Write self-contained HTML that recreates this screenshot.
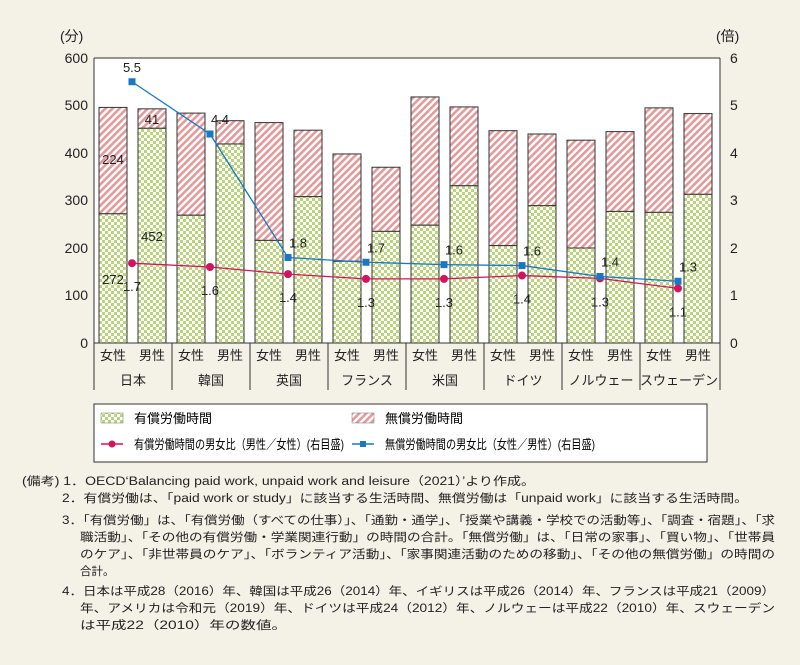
<!DOCTYPE html>
<html><head><meta charset="utf-8"><style>
body{margin:0;background:#f4f1e6;width:800px;height:665px;overflow:hidden;font-family:"Liberation Sans","Noto Sans CJK JP",sans-serif;}
</style></head><body>
<svg width="800" height="665" style="position:absolute;left:0;top:0" font-family="Liberation Sans, Noto Sans CJK JP, sans-serif">
<defs>
<pattern id="ck" width="6" height="6" patternUnits="userSpaceOnUse"><rect width="6" height="6" fill="#fff"/><rect width="3" height="3" fill="#b9d47a"/><rect x="3" y="3" width="3" height="3" fill="#b9d47a"/></pattern>
<pattern id="hc" width="5" height="5" patternUnits="userSpaceOnUse" patternTransform="rotate(45)"><rect width="5" height="5" fill="#fff"/><rect width="2.6" height="5" fill="#e49a9a"/></pattern>
</defs>
<rect x="94" y="58" width="626" height="285" fill="#fff"/>
<g font-size="14" fill="#222">
<text x="60" y="41">(分)</text><text x="716" y="41">(倍)</text>
<g text-anchor="end">
<text x="88" y="63">600</text><text x="88" y="110">500</text><text x="88" y="158">400</text><text x="88" y="205">300</text><text x="88" y="253">200</text><text x="88" y="300">100</text><text x="88" y="348">0</text></g>
<text x="730" y="63">6</text><text x="730" y="110">5</text><text x="730" y="158">4</text><text x="730" y="205">3</text><text x="730" y="253">2</text><text x="730" y="300">1</text><text x="730" y="348">0</text>
</g>
<g id="bars" stroke="#333" stroke-width="1"></g>
<line x1="94" y1="58" x2="94" y2="390" stroke="#333"/><line x1="720" y1="58" x2="720" y2="343" stroke="#333"/>
<line x1="94" y1="58" x2="720" y2="58" stroke="#333"/>
<line x1="94" y1="343" x2="720" y2="343" stroke="#333"/>
<g id="lines"></g>
<g id="lbl" font-size="13" fill="#222"></g>
<rect x="94" y="404" width="613" height="58" fill="#fff" stroke="#333"/>
<rect x="101" y="413" width="22" height="10" fill="url(#ck)" stroke="#777" stroke-width=".5"/>
<text x="134" y="423" font-size="13" textLength="78" lengthAdjust="spacingAndGlyphs">有償労働時間</text>
<rect x="352" y="413" width="22" height="10" fill="url(#hc)" stroke="#777" stroke-width=".5"/>
<text x="385" y="423" font-size="13" textLength="78" lengthAdjust="spacingAndGlyphs">無償労働時間</text>
<line x1="101" y1="444" x2="123" y2="444" stroke="#d4145a" stroke-width="1.5"/><circle cx="112" cy="444" r="3.5" fill="#d4145a"/>
<text x="134" y="449" font-size="13" textLength="210" lengthAdjust="spacingAndGlyphs">有償労働時間の男女比（男性／女性）(右目盛)</text>
<line x1="352" y1="444" x2="374" y2="444" stroke="#1a78c2" stroke-width="1.5"/><rect x="360" y="441" width="6" height="6" fill="#1a78c2"/>
<text x="385" y="449" font-size="13" textLength="210" lengthAdjust="spacingAndGlyphs">無償労働時間の男女比（女性／男性）(右目盛)</text>
<g font-size="11.5" fill="#222" lengthAdjust="spacingAndGlyphs">
<text x="22" y="485" textLength="513" lengthAdjust="spacingAndGlyphs">(備考) 1．OECD‘Balancing paid work, unpaid work and leisure（2021）’より作成。</text>
<text x="62" y="502" textLength="686" lengthAdjust="spacingAndGlyphs">2．有償労働は、「paid work or study」に該当する生活時間、無償労働は「unpaid work」に該当する生活時間。</text>
<text x="62" y="524" textLength="713" lengthAdjust="spacingAndGlyphs">3．「有償労働」は、「有償労働（すべての仕事）」、「通勤・通学」、「授業や講義・学校での活動等」、「調査・宿題」、「求</text>
<text x="80" y="541" textLength="695" lengthAdjust="spacingAndGlyphs">職活動」、「その他の有償労働・学業関連行動」の時間の合計。「無償労働」は、「日常の家事」、「買い物」、「世帯員</text>
<text x="80" y="558" textLength="695" lengthAdjust="spacingAndGlyphs">のケア」、「非世帯員のケア」、「ボランティア活動」、「家事関連活動のための移動」、「その他の無償労働」の時間の</text>
<text x="80" y="575">合計。</text>
<text x="62" y="595" textLength="713" lengthAdjust="spacingAndGlyphs">4．日本は平成28（2016）年、韓国は平成26（2014）年、イギリスは平成26（2014）年、フランスは平成21（2009）</text>
<text x="80" y="612" textLength="695" lengthAdjust="spacingAndGlyphs">年、アメリカは令和元（2019）年、ドイツは平成24（2012）年、ノルウェーは平成22（2010）年、スウェーデン</text>
<text x="80" y="629" textLength="207" lengthAdjust="spacingAndGlyphs">は平成22（2010）年の数値。</text>
</g>
</svg>
<script>
var d=[["日本",272,496,452,493],["韓国",269,484,419,468],["英国",216,464,308,448],["フランス",172,398,235,370],["米国",248,518,331,497],["ドイツ",205,447,289,440],["ノルウェー",200,427,277,445],["スウェーデン",275,495,313,483]];
var red=[1.68,1.6,1.45,1.35,1.35,1.42,1.36,1.15],blue=[5.5,4.4,1.8,1.7,1.65,1.63,1.4,1.3];
var rl=["1.7","1.6","1.4","1.3","1.3","1.4","1.3","1.1"],bl=["5.5","4.4","1.8","1.7","1.6","1.6","1.4","1.3"];
var Y=v=>343-v*0.475,R=v=>343-v*47.5,s="",l="",t="";
d.forEach((g,i)=>{var x=94+i*78;[[x+5,g[1],g[2]],[x+44,g[3],g[4]]].forEach(b=>{
s+=`<rect x="${b[0]}" y="${Y(b[2])}" width="28" height="${(b[2]-b[1])*.475}" fill="url(#hc)"/><rect x="${b[0]}" y="${Y(b[1])}" width="28" height="${b[1]*.475}" fill="url(#ck)"/>`;});
if(i>0)s+=`<line x1="${x}" y1="343" x2="${x}" y2="390" stroke-width="1"/>`;
t+=`<text x="${x+19}" y="360" text-anchor="middle">女性</text><text x="${x+58}" y="360" text-anchor="middle">男性</text><text x="${x+39}" y="385" text-anchor="middle">${g[0]}</text>`;});
s+=`<line x1="720" y1="343" x2="720" y2="390"/>`;
var rp=red.map((v,i)=>(94+i*78+38)+","+R(v)).join(" "),bp=blue.map((v,i)=>(94+i*78+38)+","+R(v)).join(" ");
l+=`<polyline points="${rp}" fill="none" stroke="#d4145a" stroke-width="1.3"/><polyline points="${bp}" fill="none" stroke="#1a78c2" stroke-width="1.3"/>`;
red.forEach((v,i)=>{var x=94+i*78+38;l+=`<circle cx="${x}" cy="${R(v)}" r="4" fill="#d4145a"/><rect x="${x-3.5}" y="${R(blue[i])-3.5}" width="7" height="7" fill="#1a78c2"/>`;
t+=`<text x="${x}" y="${R(v)+28}" text-anchor="middle">${rl[i]}</text><text x="${x+(i==0?0:10)}" y="${R(blue[i])-10}" text-anchor="middle">${bl[i]}</text>`;});
t+=`<text x="113" y="164" text-anchor="middle">224</text><text x="113" y="284" text-anchor="middle">272</text><text x="152" y="241" text-anchor="middle">452</text><text x="152" y="124" text-anchor="middle">41</text>`;
document.getElementById("bars").innerHTML=s;document.getElementById("lines").innerHTML=l;document.getElementById("lbl").innerHTML=t;
</script>
</body></html>
